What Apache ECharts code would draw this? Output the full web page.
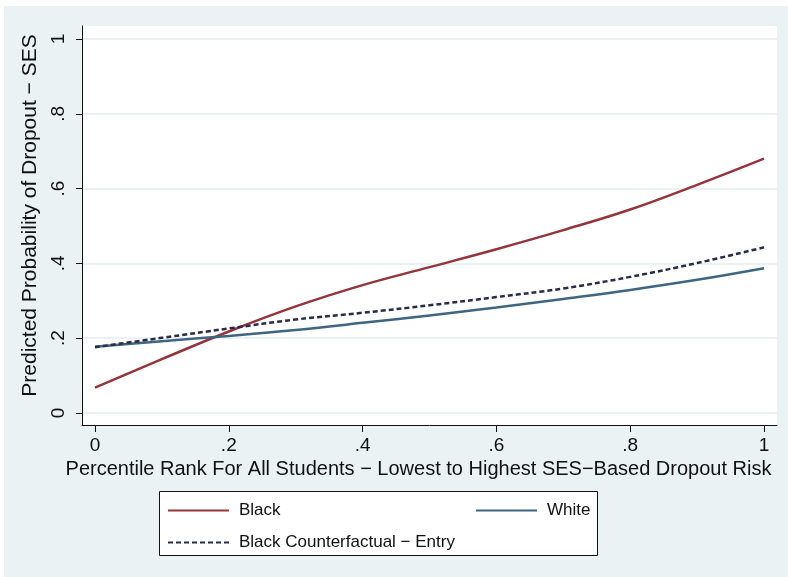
<!DOCTYPE html>
<html><head><meta charset="utf-8">
<script src="https://cdn.jsdelivr.net/npm/echarts@6/dist/echarts.min.js"></script>
<style>html,body{margin:0;padding:0;background:#fff}#c{width:788px;height:577px}</style>
</head><body><div id="c"></div>
<script>
const percentile = [0, 0.1, 0.2, 0.3, 0.4, 0.5, 0.6, 0.7, 0.8, 0.9, 1.0];
const black = [0.068, 0.144, 0.218, 0.285, 0.342, 0.390, 0.438, 0.489, 0.544, 0.610, 0.680];
const white = [0.177, 0.192, 0.206, 0.222, 0.241, 0.261, 0.282, 0.305, 0.329, 0.356, 0.387];
const counterfactual = [0.176, 0.201, 0.226, 0.250, 0.268, 0.288, 0.310, 0.333, 0.364, 0.401, 0.443];
const xTicks = [0, 0.2, 0.4, 0.6, 0.8, 1];
const yTicks = [0, 0.2, 0.4, 0.6, 0.8, 1];
const seriesNames = ['Black', 'White', 'Black Counterfactual − Entry'];
const xTitle = 'Percentile Rank For All Students − Lowest to Highest SES−Based Dropout Risk';
const yTitle = 'Predicted Probability of Dropout − SES';

const FONT = '"Liberation Sans", Arial, sans-serif';
const fmt = v => (v === 0 ? '0' : v === 1 ? '1' : String(+v.toFixed(2)).replace(/^0/, ''));
const pairs = ys => percentile.map((x, i) => [x, ys[i]]);

const legendBase = {
  padding: 0, itemWidth: 61, itemHeight: 14,
  itemStyle: {opacity: 0, color: 'transparent', borderWidth: 0},
  textStyle: {fontSize: 17, color: '#111', fontFamily: FONT, padding: [0, 0, 0, 5]}
};

const chart = echarts.init(document.getElementById('c'), null, {renderer: 'canvas'});
chart.setOption({
  backgroundColor: '#ffffff',
  animation: false,
  textStyle: {fontFamily: FONT},
  graphic: [
    {type: 'rect', z: -10, silent: true, shape: {x: 4, y: 6, width: 784, height: 571}, style: {fill: '#eaf2f3'}},
    {type: 'rect', z: -5, silent: true, shape: {x: 159.5, y: 491.5, width: 438, height: 64}, style: {fill: '#ffffff', stroke: '#111', lineWidth: 1}}
  ],
  grid: {left: 82, right: 11, top: 26, bottom: 152, show: true, backgroundColor: '#ffffff', borderWidth: 0},
  xAxis: {
    type: 'value', min: -0.0194, max: 1.0194,
    axisLine: {show: true, onZero: false, lineStyle: {color: '#111', width: 1}},
    axisTick: {show: true, length: 7, customValues: xTicks, lineStyle: {color: '#111'}},
    axisLabel: {customValues: xTicks, formatter: fmt, color: '#111', fontSize: 19, margin: 11, fontFamily: FONT},
    splitLine: {show: false},
    name: xTitle, nameLocation: 'middle', nameGap: 29,
    nameTextStyle: {fontSize: 20, color: '#111', fontFamily: FONT, padding: [0, 22, 0, 0]}
  },
  yAxis: {
    type: 'value', min: -0.0321, max: 1.0348,
    axisLine: {show: true, onZero: false, lineStyle: {color: '#111', width: 1}},
    axisTick: {show: true, length: 6, customValues: yTicks, lineStyle: {color: '#111'}},
    axisLabel: {customValues: yTicks, formatter: fmt, color: '#111', fontSize: 19, rotate: 90, margin: 14, fontFamily: FONT},
    splitLine: {show: true, lineStyle: {color: '#e6eef0', width: 1.5}},
    name: yTitle, nameLocation: 'middle', nameGap: 36,
    nameTextStyle: {fontSize: 21, color: '#111', fontFamily: FONT, padding: [0, 0, 0, 20]}
  },
  legend: [
    Object.assign({data: [seriesNames[0]], left: 167, top: 502}, legendBase),
    Object.assign({data: [seriesNames[1]], left: 475, top: 502}, legendBase),
    Object.assign({data: [seriesNames[2]], left: 167, top: 534}, legendBase)
  ],
  series: [
    {name: seriesNames[0], type: 'line', data: pairs(black), smooth: 0.4, symbol: 'none',
     lineStyle: {color: '#96343c', width: 2.5}, itemStyle: {color: '#96343c'}, z: 3},
    {name: seriesNames[1], type: 'line', data: pairs(white), smooth: 0.4, symbol: 'none',
     lineStyle: {color: '#3e6581', width: 2.5}, itemStyle: {color: '#3e6581'}, z: 3},
    {name: seriesNames[2], type: 'line', data: pairs(counterfactual), smooth: 0.4, symbol: 'none',
     lineStyle: {color: '#2a2b48', width: 2.5, type: [5, 3]}, itemStyle: {color: '#2a2b48'}, z: 4}
  ]
});
</script></body></html>
